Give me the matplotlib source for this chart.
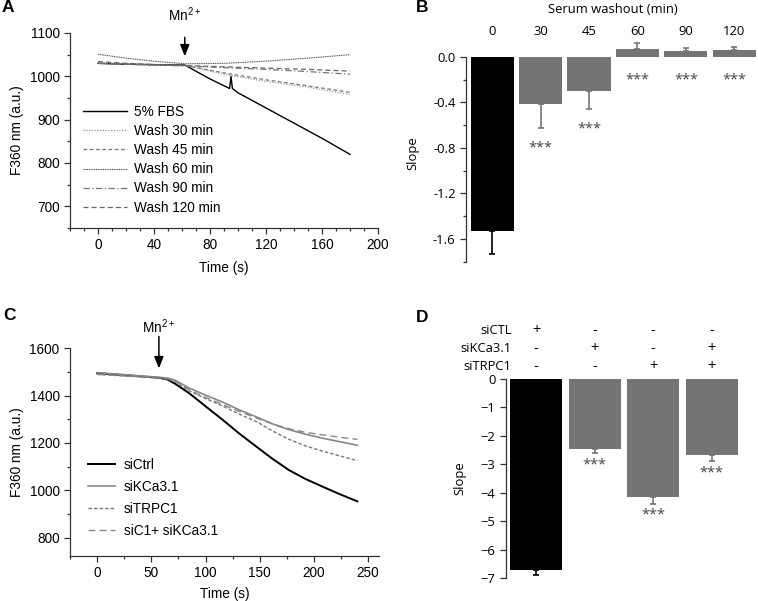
import matplotlib
matplotlib.use("Agg")
import matplotlib.pyplot as plt
from matplotlib.ticker import MultipleLocator
import matplotlib.transforms as mtrans

# ---------------- data ----------------
# Panel A
t_fbs = [0, 20, 40, 62, 80, 94, 95, 96, 100, 120, 140, 160, 180]
v_fbs = [1030, 1028, 1027, 1026, 994, 972, 1000, 972, 962, 927, 892, 857, 820]
t_wash = [0, 20, 40, 62, 90, 120, 150, 180]
v_wash30 = [1032, 1029, 1027, 1025, 1005, 988, 975, 958]
v_wash45 = [1030, 1028, 1026, 1025, 1008, 992, 978, 963]
v_wash60 = [1051, 1042, 1035, 1029, 1030, 1035, 1042, 1050]
v_wash90 = [1030, 1028, 1026, 1024, 1020, 1016, 1011, 1005]
v_wash120 = [1034, 1030, 1027, 1025, 1022, 1019, 1016, 1012]
labels_A = ["5% FBS", "Wash 30 min", "Wash 45 min", "Wash 60 min",
            "Wash 90 min", "Wash 120 min"]

# Panel B
washout = ["0", "30", "45", "60", "90", "120"]
slope_B = [-1.53, -0.41, -0.30, 0.07, 0.055, 0.065]
err_B = [0.20, 0.21, 0.16, 0.05, 0.025, 0.02]
sig_B = ["", "***", "***", "***", "***", "***"]
sig_pos_B = [None, -0.80, -0.63, -0.20, -0.20, -0.20]

# Panel C
t_C = [0, 30, 58, 65, 72, 85, 100, 116, 131, 147, 162, 177, 192, 208, 224, 240]
v_sictrl = [1495, 1485, 1475, 1468, 1450, 1410, 1355, 1297, 1240, 1184, 1132, 1085, 1048, 1015, 983, 953]
v_sikca = [1497, 1487, 1477, 1474, 1465, 1432, 1402, 1372, 1340, 1310, 1280, 1256, 1237, 1220, 1205, 1190]
v_sitrpc = [1490, 1482, 1475, 1470, 1458, 1420, 1388, 1355, 1322, 1290, 1250, 1215, 1188, 1165, 1145, 1125]
v_sic1kca = [1490, 1482, 1475, 1471, 1461, 1424, 1392, 1362, 1333, 1305, 1280, 1260, 1245, 1234, 1224, 1215]
labels_C = ["siCtrl", "siKCa3.1", "siTRPC1", "siC1+ siKCa3.1"]

# Panel D
row_names = ["siCTL", "siKCa3.1", "siTRPC1"]
row_signs = [["+", "-", "-", "-"],
             ["-", "+", "-", "+"],
             ["-", "-", "+", "+"]]
slope_D = [-6.73, -2.46, -4.16, -2.67]
err_D = [0.17, 0.15, 0.23, 0.23]
sig_D = ["", "***", "***", "***"]
sig_pos_D = [None, -3.02, -4.78, -3.29]

# ---------------- style ----------------
W, H = 758, 601
fig = plt.figure(figsize=(W / 100, H / 100), dpi=100)
SANS = ["Liberation Sans", "DejaVu Sans"]
BF = ["Open Sans", "DejaVu Sans"]
plt.rcParams["mathtext.default"] = "regular"
GRAY = "#747474"
FS = 9.8
FSB = 9.4
FSTAR = 10.5


def px_axes(l, t, r, b):
    return fig.add_axes([l / W, 1 - b / H, (r - l) / W, (b - t) / H])


def style_axes(ax, fam, fs):
    for s in ["top", "right"]:
        ax.spines[s].set_visible(False)
    for s in ["left", "bottom"]:
        ax.spines[s].set_color("#333333")
        ax.spines[s].set_linewidth(0.9)
    ax.tick_params(which="both", direction="out", color="#333333", width=0.9,
                   labelsize=fs)
    ax.tick_params(which="major", length=4)
    ax.tick_params(which="minor", length=2.5)
    for lab in ax.get_xticklabels() + ax.get_yticklabels():
        lab.set_family(fam)


# ---------------- Panel A ----------------
axA = px_axes(70, 33, 378, 228)
axA.plot(t_fbs, v_fbs, color="black", lw=1.0, label=labels_A[0])
axA.plot(t_wash, v_wash30, color="#999999", lw=0.9, ls=(0, (1, 1.2)), label=labels_A[1])
axA.plot(t_wash, v_wash45, color="#777777", lw=0.9, ls=(0, (3, 2)), label=labels_A[2])
axA.plot(t_wash, v_wash60, color="#555555", lw=0.8, ls=(0, (1, 0.6)), label=labels_A[3])
axA.plot(t_wash, v_wash90, color="#777777", lw=0.9, ls=(0, (5, 2, 1, 2)), label=labels_A[4])
axA.plot(t_wash, v_wash120, color="#666666", lw=0.9, ls=(0, (4, 2.5)), label=labels_A[5])
axA.set_xlim(-20, 200)
axA.set_ylim(650, 1100)
axA.xaxis.set_major_locator(MultipleLocator(40))
axA.xaxis.set_minor_locator(MultipleLocator(10))
axA.yaxis.set_minor_locator(MultipleLocator(50))
axA.set_yticks([700, 800, 900, 1000, 1100])
style_axes(axA, SANS, FS)
axA.set_xlabel("Time (s)", family=SANS, fontsize=FS, labelpad=6)
axA.set_ylabel("F360 nm (a.u.)", family=SANS, fontsize=FS, labelpad=4)
axA.annotate("", xy=(62, 1046), xytext=(62, 1090), xycoords="data",
             arrowprops=dict(arrowstyle="-|>,head_width=0.28,head_length=0.7",
                             color="black", lw=1.1, shrinkA=0, shrinkB=0),
             annotation_clip=False)
axA.text(62, 1142, "Mn$^{2+}$", ha="center", va="center", family=SANS,
         fontsize=FS, clip_on=False)
axA.legend(loc="upper left", bbox_to_anchor=(0.043, 0.632), frameon=False,
           borderpad=0, borderaxespad=0, handlelength=3.2,
           handletextpad=0.5, labelspacing=0.38,
           prop=dict(family=SANS, size=FS))

# ---------------- Panel B ----------------
axB = px_axes(466, 45.6, 758, 261.75)
xB = list(range(len(washout)))
colors_B = ["black"] + [GRAY] * (len(washout) - 1)
axB.bar(xB, slope_B, width=0.893, color=colors_B, edgecolor="none")
for i, (v, e) in enumerate(zip(slope_B, err_B)):
    lo, hi = (e, 0) if v < 0 else (0, e)
    axB.errorbar(i, v, yerr=[[lo], [hi]], color=colors_B[i], lw=1.2,
                 capsize=2.5, capthick=1.2, clip_on=False)
    if sig_B[i]:
        axB.text(i, sig_pos_B[i], sig_B[i], ha="center", va="center",
                 family=BF, fontsize=FSTAR, color="#444444")
axB.set_xlim(-0.542, 5.49)
axB.set_ylim(-1.8, 0.1)
axB.spines["left"].set_bounds(-1.8, 0)
axB.spines["bottom"].set_visible(False)
axB.set_xticks([])
axB.yaxis.set_minor_locator(MultipleLocator(0.2))
axB.set_yticks([0.0, -0.4, -0.8, -1.2, -1.6])
axB.set_yticklabels(["0.0", "-0.4", "-0.8", "-1.2", "-1.6"])
style_axes(axB, BF, FSB)
trB = mtrans.blended_transform_factory(axB.transData, axB.transAxes)
for i, lab in enumerate(washout):
    axB.text(i, 1.063, lab, transform=trB, ha="center", va="center",
             family=BF, fontsize=FSB)
axB.text(2.5, 1.165, "Serum washout (min)", transform=trB, ha="center",
         va="center", family=BF, fontsize=FSB)
axB.set_ylabel("Slope", family=BF, fontsize=FSB, labelpad=10)

# ---------------- Panel C ----------------
axC = px_axes(70, 348.3, 379, 556)
axC.plot(t_C, v_sictrl, color="black", lw=1.4, label=labels_C[0])
axC.plot(t_C, v_sikca, color="#888888", lw=1.2, label=labels_C[1])
axC.plot(t_C, v_sitrpc, color="#777777", lw=1.0, ls=(0, (2.5, 1.5)), label=labels_C[2])
axC.plot(t_C, v_sic1kca, color="#888888", lw=1.0, ls=(0, (5, 3)), label=labels_C[3])
axC.set_xlim(-25, 260)
axC.set_ylim(722, 1600)
axC.xaxis.set_major_locator(MultipleLocator(50))
axC.xaxis.set_minor_locator(MultipleLocator(25))
axC.set_yticks([800, 1000, 1200, 1400, 1600])
axC.yaxis.set_minor_locator(MultipleLocator(100))
style_axes(axC, SANS, FS)
axC.set_xlabel("Time (s)", family=SANS, fontsize=FS, labelpad=5)
axC.set_ylabel("F360 nm (a.u.)", family=SANS, fontsize=FS, labelpad=4)
axC.annotate("", xy=(57, 1515), xytext=(57, 1650), xycoords="data",
             arrowprops=dict(arrowstyle="-|>,head_width=0.28,head_length=0.7",
                             color="black", lw=1.1, shrinkA=0, shrinkB=0),
             annotation_clip=False)
axC.text(57, 1692, "Mn$^{2+}$", ha="center", va="center", family=SANS,
         fontsize=FS, clip_on=False)
axC.legend(loc="upper left", bbox_to_anchor=(0.059, 0.472), frameon=False,
           borderpad=0, borderaxespad=0, handlelength=2.0,
           handletextpad=0.63, labelspacing=0.58,
           prop=dict(family=SANS, size=FS))

# ---------------- Panel D ----------------
axD = px_axes(506, 379, 738, 578)
xD = list(range(len(slope_D)))
colors_D = ["black"] + [GRAY] * (len(slope_D) - 1)
axD.bar(xD, slope_D, width=0.889, color=colors_D, edgecolor="none")
for i, (v, e) in enumerate(zip(slope_D, err_D)):
    axD.errorbar(i, v, yerr=[[e], [0]], color=colors_D[i], lw=1.2,
                 capsize=2.5, capthick=1.2, clip_on=False)
    if sig_D[i]:
        axD.text(i, sig_pos_D[i], sig_D[i], ha="center", va="center",
                 family=BF, fontsize=FSTAR, color="#444444")
axD.set_xlim(-0.516, 3.45)
axD.set_ylim(-7, 0)
axD.spines["bottom"].set_visible(False)
axD.set_xticks([])
axD.set_yticks(list(range(0, -8, -1)))
style_axes(axD, BF, FSB)
trD = mtrans.blended_transform_factory(axD.transData, axD.transAxes)
row_y = [1.246, 1.154, 1.062]
for r, name in enumerate(row_names):
    axD.text(0.025, row_y[r], name, transform=axD.transAxes, ha="right",
             va="center", family=BF, fontsize=FSB)
    for i, s in enumerate(row_signs[r]):
        axD.text(i, row_y[r], s, transform=trD, ha="center", va="center",
                 family=BF, fontsize=10.5)
axD.set_ylabel("Slope", family=BF, fontsize=FSB, labelpad=10)

# ---------------- panel letters ----------------
for letter, (x, y) in {"A": (8, 8), "B": (422, 8), "C": (9, 315), "D": (422, 317)}.items():
    fig.text(x / W, 1 - y / H, letter, ha="center", va="center",
             family=SANS, fontsize=12.5, fontweight="bold")

fig.savefig("out.png", dpi=100)
